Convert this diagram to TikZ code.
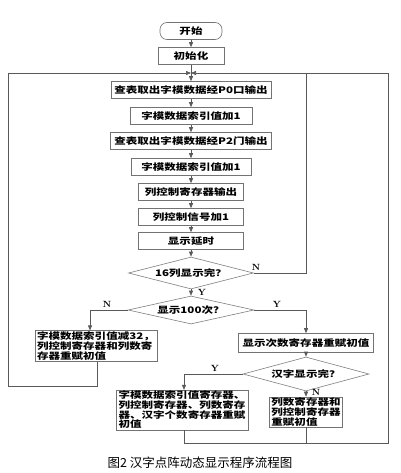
\documentclass[tikz,border=0pt]{standalone}
\usepackage{fontspec}
\newfontfamily\cjk[FakeStretch=1.28]{Noto Sans CJK SC}
\newfontfamily\cjkcap{Noto Sans CJK SC}
\usetikzlibrary{shapes.geometric,arrows.meta}
\tikzset{
  box/.style={draw=black!55, line width=0.6pt, minimum height=17pt, inner xsep=2pt, inner ysep=1pt,
    font=\cjk\bfseries\fontsize{9}{8.6}\selectfont},
  dia/.style={diamond, aspect=4, draw=black!50, line width=0.6pt, inner sep=0pt,
    font=\cjk\bfseries\fontsize{9}{8.6}\selectfont},
  conn/.style={draw=black!65, line width=0.6pt},
  arr/.style={conn, -{Triangle[length=5pt,width=4pt]}},
  lab/.style={font=\bfseries\fontsize{9}{9}\selectfont, inner sep=0pt}
}
\begin{document}
\begin{tikzpicture}[x=1pt,y=-1pt]
\useasboundingbox (0,0) rectangle (400,473);
\fill[white] (0,0) rectangle (400,473);

\node[box, rounded corners=7pt, minimum width=62pt] (start) at (191,31) {开始};
\node[box, minimum width=66pt] (init) at (191,56) {初始化};
\coordinate (j) at (191,73);
\node[box, minimum width=160pt] (b1) at (191,90) {查表取出字模数据经P0口输出};
\node[box, minimum width=122pt] (b2) at (191,116) {字模数据索引值加1};
\node[box, minimum width=161pt] (b3) at (191,141) {查表取出字模数据经P2门输出};
\node[box, minimum width=120pt] (b4) at (191,167) {字模数据索引值加1};
\node[box, minimum width=105pt] (b5) at (191,192) {列控制寄存器输出};
\node[box, minimum width=105pt] (b6) at (191,217) {列控制信号加1};
\node[box, minimum width=105pt] (b7) at (191,241) {显示延时};
\node[dia, minimum width=125pt, minimum height=32pt] (d1) at (191,273) {16列显示完？};
\node[dia, minimum width=126pt, minimum height=28pt] (d2) at (191,310) {显示100次？};
\node[box, align=left, minimum width=122pt, minimum height=28pt] (lb) at (96,346)
  {字模数据索引值减32，\\列控制寄存器和列数寄\\存器重赋初值};
\node[box, minimum width=135pt, minimum height=19pt] (r1) at (306,343) {显示次数寄存器重赋初值};
\node[dia, minimum width=126pt, minimum height=34pt] (d3) at (306,374) {汉字显示完？};
\node[box, align=left, minimum width=72pt, minimum height=29pt] (r2) at (306,412)
  {列数寄存器和\\列控制寄存器\\重赋初值};
\node[box, align=left, minimum width=132pt, minimum height=34pt] (bb) at (182,410)
  {字模数据索引值寄存器、\\列控制寄存器、列数寄存\\器、汉字个数寄存器重赋\\初值};

\node[font=\cjkcap\fontsize{12.5}{12.5}\selectfont] (cap) at (200,463) {图2 汉字点阵动态显示程序流程图};

% labels
\node[lab] (n1) at (256,267) {N};
\node[lab] (y1) at (202,292) {Y};
\node[lab] (n2) at (107,304) {N};
\node[lab] (y2) at (277,304) {Y};
\node[lab] (y3) at (215,368) {Y};
\node[lab] (n3) at (316,392) {N};

% corner coordinates
\coordinate (cL1) at (8,386);
\coordinate (cL2) at (8,73);
\coordinate (cR1) at (306,273);
\coordinate (cR2) at (306,73);
\coordinate (cO1) at (388,443);
\coordinate (cO2) at (388,73);
\coordinate (nL) at (90,310);
\coordinate (yR) at (306,310);
\coordinate (yB) at (184,374);
\coordinate (xL) at (97,386);
\coordinate (xB) at (184,443);

% main column
\draw[arr] (start) -- (init);
\draw[conn] (init) -- (j);
\draw[arr] (j) -- (b1);
\draw[arr] (b1) -- (b2);
\draw[arr] (b2) -- (b3);
\draw[arr] (b3) -- (b4);
\draw[arr] (b4) -- (b5);
\draw[arr] (b5) -- (b6);
\draw[arr] (b6) -- (b7);
\draw[arr] (b7) -- (d1);
\draw[arr] (d1) -- (d2);

% top junction
\draw[arr] (cL2) -- (j);
\draw[arr] (cO2) -- (j);

% loops
\draw[conn] (d1.east) -- (cR1) -- (cR2);
\draw[arr] (d2.west) -- (nL) -- (nL |- lb.north);
\draw[arr] (d2.east) -- (yR) -- (r1.north);
\draw[conn] (xL |- lb.south) -- (xL) -- (cL1) -- (cL2);
\draw[arr] (r1) -- (d3);
\draw[arr] (d3.west) -- (yB) -- (yB |- bb.north);
\draw[arr] (d3) -- (r2);
\draw[conn] (xB |- bb.south) -- (xB) -- (cO1) -- (cO2);
\draw[conn] (r2.south) -- (r2.south |- xB);
\end{tikzpicture}
\end{document}
